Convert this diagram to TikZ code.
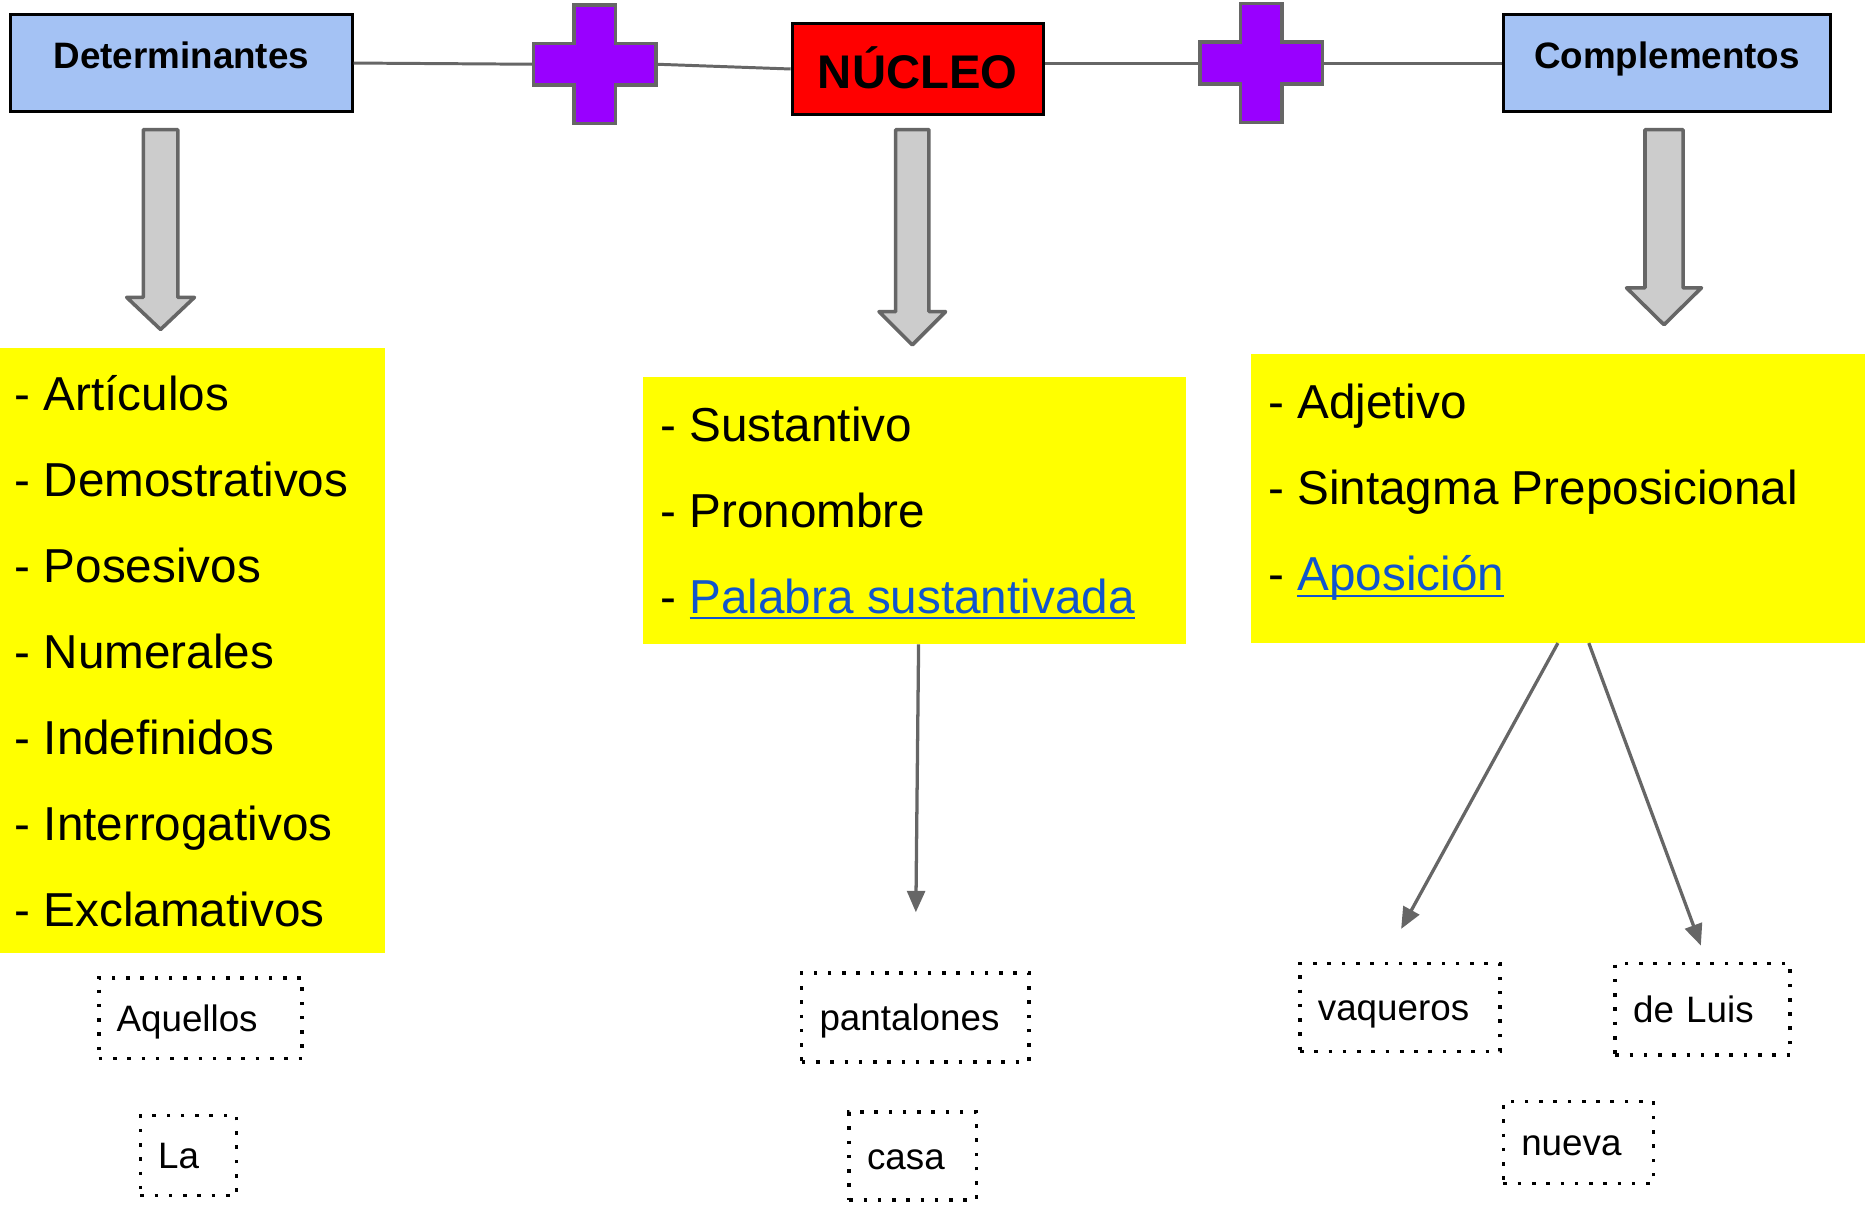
\documentclass[tikz,border=0pt]{standalone}
\usepackage{fontspec}
\setmainfont{Liberation Sans}
\usetikzlibrary{arrows.meta}

\definecolor{boxblue}{HTML}{A4C2F4}
\definecolor{corered}{HTML}{FF0000}
\definecolor{listyellow}{HTML}{FFFF00}
\definecolor{plusviolet}{HTML}{9900FF}
\definecolor{edgegray}{HTML}{666666}
\definecolor{arrowgray}{HTML}{CCCCCC}
\definecolor{linkblue}{HTML}{1155CC}

\tikzset{
  hdrbox/.style={draw=black,line width=0.05cm,inner sep=0,
    text height=0.45cm,text depth=0.25cm,
    font=\bfseries\fontsize{17.6}{20}\selectfont},
  plusspot/.style={minimum width=2.06cm,minimum height=2cm,inner sep=0},
  plussign/.style={draw=edgegray,fill=plusviolet,line width=0.06cm},
  joinline/.style={draw=edgegray,line width=0.05cm},
  blockarrow/.style={draw=edgegray,fill=arrowgray,line width=0.06cm,line join=round},
  yellowbox/.style={anchor=north west,fill=listyellow,inner sep=0},
  itemtext/.style={anchor=base west,inner sep=0,font=\fontsize{22.8}{27}\selectfont},
  dotbox/.style={draw=black,line width=0.06cm,dash pattern=on 0.06cm off 0.18cm,
    align=left,inner xsep=0.3cm,inner ysep=0,text height=0.56cm,text depth=0.12cm,
    font=\fontsize{17.6}{20}\selectfont},
  thinarrow/.style={draw=edgegray,line width=0.055cm,
    -{Triangle[length=0.36cm,width=0.3cm]}}
}

% blue underlined link text
\newcommand\linkline[1]{{\color{linkblue}\setbox0\hbox{#1}%
  \rlap{\rule[-0.13em]{\wd0}{1.1pt}}\box0}}
% cross drawn round a placeholder node
\newcommand\plusshape[1]{%
  \draw [plussign] (#1.center) ++(-17.5,-50) -- ++(35,0) -- ++(0,32.5)
    -- ++(34,0) -- ++(0,35) -- ++(-34,0) -- ++(0,32.5) -- ++(-35,0)
    -- ++(0,-32.5) -- ++(-34,0) -- ++(0,-35) -- ++(34,0) -- cycle;}
% x, top, head base, tip, half shaft, half head
\newcommand\blockarrow[6]{%
  \draw [blockarrow] ({#1-#5},#2) -- ({#1+#5},#2) -- ({#1+#5},#3)
    -- ({#1+#6},#3) -- (#1,#4) -- ({#1-#6},#3) -- ({#1-#5},#3) -- cycle;}

\begin{document}
\begin{tikzpicture}[x=0.02cm,y=-0.02cm]
\useasboundingbox (0,0) rectangle (1568,1018);

\path
    (152.5,53) node [hdrbox,fill=boxblue,minimum width=5.74cm,minimum height=1.64cm] (det) {Determinantes}
    (500,54) node [plusspot] (plusA) {}
    (771.5,58) node [hdrbox,fill=corered,minimum width=4.22cm,minimum height=1.52cm,
        text height=0.8cm,text depth=0.15cm,
        font=\bfseries\fontsize{22.6}{26}\selectfont] (nucleo) {NÚCLEO}
    (1060.5,53) node [plusspot] (plusB) {}
    (1401.5,53) node [hdrbox,fill=boxblue,minimum width=5.5cm,minimum height=1.64cm] (comp) {Complementos};
\draw [joinline] (det.east) -- (plusA.west);
\draw [joinline] (plusA.east) -- (nucleo.west);
\draw [joinline] (nucleo.east |- plusB.west) -- (plusB.west);
\draw [joinline] (plusB.east) -- (comp.west);
\plusshape{plusA}
\plusshape{plusB}

\blockarrow{135}{109}{250}{277}{14.5}{28.5}
\blockarrow{767}{109}{262}{290}{14}{28}
\blockarrow{1399}{109}{242}{273}{16}{31.5}

\path [nodes=yellowbox]
    (0,292) node [minimum width=6.46cm,minimum height=10.18cm] (detlist) {}
    (540,317) node [minimum width=9.14cm,minimum height=4.48cm] (nuclist) {}
    (1051,297) node [minimum width=10.34cm,minimum height=4.86cm] (complist) {};
\foreach \t [count=\i] in {Artículos,Demostrativos,Posesivos,Numerales,
    Indefinidos,Interrogativos,Exclamativos}
  \node [itemtext] (detitem\i) at (12,{345+72.3*(\i-1)}) {- \t};
\foreach \t [count=\i] in {Sustantivo,Pronombre,{\linkline{Palabra sustantivada}}}
  \node [itemtext] (nucitem\i) at (555,{371+72.3*(\i-1)}) {- \t};
\foreach \t [count=\i] in {Adjetivo,Sintagma Preposicional,{\linkline{Aposición}}}
  \node [itemtext] (compitem\i) at (1066,{352+72.3*(\i-1)}) {- \t};

\path [nodes=dotbox]
    (168.5,856) node [text width=2.82cm,minimum height=1.36cm] (aquellos) {Aquellos}
    (158.5,971.5) node [text width=1.02cm,minimum height=1.34cm] (la) {La}
    (769.5,855.5) node [text width=3.22cm,minimum height=1.5cm] (pantalones) {pantalones}
    (767.5,972) node [text width=1.54cm,minimum height=1.48cm] (casa) {casa}
    (1177,847) node [text width=2.76cm,minimum height=1.48cm] (vaqueros) {vaqueros}
    (1431.5,848.5) node [text width=2.34cm,minimum height=1.54cm] (deluis) {de Luis}
    (1327,960.5) node [text width=1.92cm,minimum height=1.38cm] (nueva) {nueva};

\coordinate (pantip) at (770,767);
\coordinate (vaqtip) at (1178,781);
\coordinate (luistip) at (1430,795);
\draw [thinarrow] ([xshift=0.07cm]nuclist.south) -- (pantip);
\draw [thinarrow] (complist.south) -- (vaqtip);
\draw [thinarrow] ([xshift=0.52cm]complist.south) -- (luistip);
\end{tikzpicture}
\end{document}
